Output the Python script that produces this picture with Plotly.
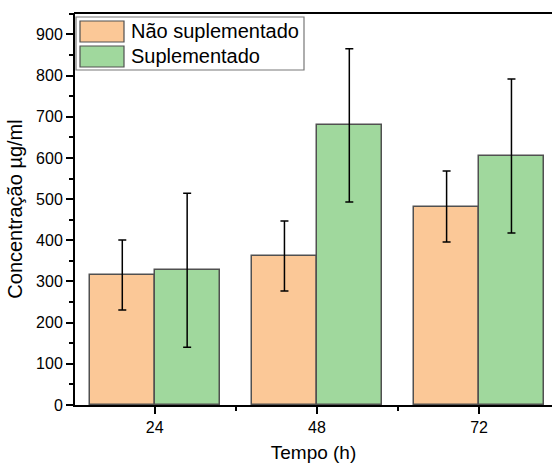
import plotly.graph_objects as go

# Data
tempos = [24, 48, 72]
nao_suplementado = [316, 362, 482]
nao_suplementado_err = [85, 85, 86]
suplementado = [327, 679, 605]
suplementado_err = [187, 186, 187]
series_names = ["Não suplementado", "Suplementado"]

orange = "rgb(251,200,151)"
green = "rgb(160,216,157)"
edge = "rgb(80,80,80)"
FONT = "Liberation Sans, Arial, sans-serif"

W, H = 552, 463
L, T, B, R = 75, 13, 58, 0
pw, ph = W - L - R, H - T - B

def px(x):
    return (x - L) / pw

def py(y):
    return (H - B - y) / ph

bw = 9.6
fig = go.Figure()
fig.add_trace(go.Bar(
    x=tempos, y=nao_suplementado, width=bw, offset=-bw, name=series_names[0],
    marker=dict(color=orange, line=dict(color=edge, width=1.5)),
    error_y=dict(type="data", array=nao_suplementado_err, color="black", thickness=1.5, width=4),
    showlegend=False,
))
fig.add_trace(go.Bar(
    x=tempos, y=suplementado, width=bw, offset=0, name=series_names[1],
    marker=dict(color=green, line=dict(color=edge, width=1.5)),
    error_y=dict(type="data", array=suplementado_err, color="black", thickness=1.5, width=4),
    showlegend=False,
))

shapes = [
    # hide any right-edge frame line (reference has none there)
    dict(type="line", xref="paper", yref="paper", x0=1, x1=1, y0=0.01, y1=1.0,
         line=dict(color="white", width=4), layer="above"),
    # top frame line
    dict(type="line", xref="paper", yref="paper", x0=px(74), x1=1, y0=1, y1=1,
         line=dict(color="black", width=2), layer="above"),
    # legend box and swatches
    dict(type="rect", xref="paper", yref="paper", x0=px(76), x1=px(304), y0=py(70), y1=py(17),
         line=dict(color="rgb(120,120,120)", width=1.2), fillcolor="white", layer="above"),
    dict(type="rect", xref="paper", yref="paper", x0=px(80), x1=px(124), y0=py(42), y1=py(21),
         line=dict(color=edge, width=1.2), fillcolor=orange, layer="above"),
    dict(type="rect", xref="paper", yref="paper", x0=px(80), x1=px(124), y0=py(67), y1=py(46),
         line=dict(color=edge, width=1.2), fillcolor=green, layer="above"),
]
annotations = [
    dict(x=px(129), y=py(31), xref="paper", yref="paper", text=series_names[0], showarrow=False,
         xanchor="left", yanchor="middle", font=dict(family=FONT, size=20, color="black")),
    dict(x=px(129), y=py(56), xref="paper", yref="paper", text=series_names[1], showarrow=False,
         xanchor="left", yanchor="middle", font=dict(family=FONT, size=20, color="black")),
]

fig.update_layout(
    width=W, height=H,
    margin=dict(l=L, r=R, t=T, b=B, autoexpand=False),
    paper_bgcolor="white", plot_bgcolor="white",
    font=dict(family=FONT, color="black"),
    shapes=shapes, annotations=annotations,
    bargap=0,
)
fig.update_xaxes(
    automargin=False,
    range=[12.2, 82.8], tickvals=tempos, ticktext=[str(t) for t in tempos],
    showgrid=False, zeroline=False, showline=True, linecolor="black", linewidth=2, mirror=False,
    ticks="outside", ticklen=7, tickwidth=1.5, tickcolor="black",
    minor=dict(tickvals=[36, 60], ticks="outside", ticklen=4, tickwidth=1.5, tickcolor="black"),
    tickfont=dict(size=16, family=FONT),
    title=dict(text="Tempo (h)", font=dict(size=19, family=FONT), standoff=10),
)
fig.update_yaxes(
    automargin=False,
    range=[0, 952], dtick=100, tick0=0,
    showgrid=False, zeroline=False, showline=True, linecolor="black", linewidth=2, mirror=False,
    ticks="outside", ticklen=7, tickwidth=1.5, tickcolor="black",
    minor=dict(dtick=50, tick0=0, ticks="outside", ticklen=4, tickwidth=1.5, tickcolor="black",
               showgrid=False),
    tickfont=dict(size=16, family=FONT),
    title=dict(text="Concentração µg/ml", font=dict(size=20, family=FONT), standoff=8),
)

fig.write_html(
    "out.html",
    config={"displayModeBar": False},
    post_script="document.body.style.margin='0';document.body.style.overflow='hidden';",
)
